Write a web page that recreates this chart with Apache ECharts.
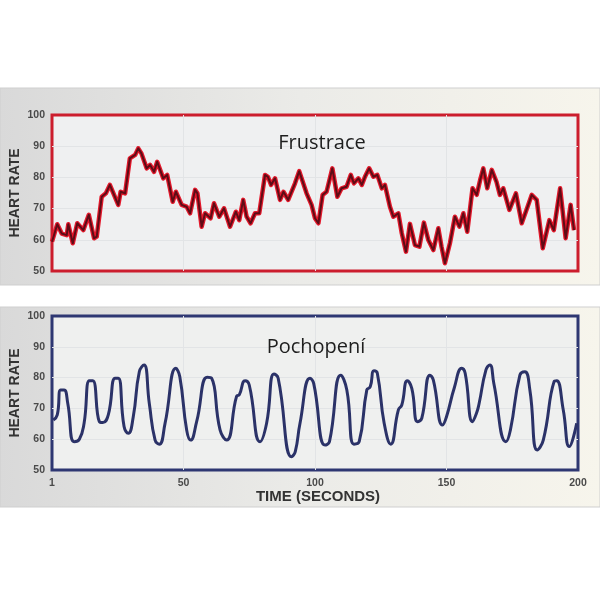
<!DOCTYPE html>
<html>
<head>
<meta charset="utf-8">
<script src="https://cdn.jsdelivr.net/npm/echarts@6/dist/echarts.min.js"></script>
<style>html,body{margin:0;padding:0;background:#fff;}#c{width:600px;height:600px;}</style>
</head>
<body>
<div id="c"></div>
<script>
// ---- data ----
var frustraceTimes = [0,2,3.7,5.6,6.2,7.9,9.6,11.9,14,16,17,18.9,20.5,22,25.2,26.1,27.8,29.6,31.6,32.8,34,36,37.3,38.8,40,42.3,43.8,45.9,47.1,49.3,51.2,52.5,54.4,55.3,56.9,58.2,60.3,61.6,63.6,65.4,67.7,69.9,71.2,72.7,74,75.5,77.2,78.8,81,82.1,83.3,84.8,86.7,88,89.8,92.4,94,96.8,98.7,100,101.3,102.9,104.4,106.6,108.5,110.1,112,113.6,114.8,116.5,117.8,119,120.6,122.2,123.7,125.4,126.6,128.5,129.8,131.7,133,134.6,136.1,138,139.7,141.4,143.1,145,146.9,148.1,149.4,151.3,153.2,154.9,156.4,157.9,159.9,161.5,162.8,164,165.5,167.2,169,170.3,171.6,173.9,176.4,178.6,181.1,182.4,184.3,186.6,189.1,190.8,193.2,195.3,197.2,198.5];
var frustraceValues = [59.4,65,62,61.5,65,58.9,65.3,63.1,68,60.5,61,73.8,74.9,77.6,71.2,75.4,74.9,86.1,87.2,89.3,87.7,82.9,84,81.8,85,79.7,80.8,72.2,75.4,71.2,70.6,68.5,76,74.9,64.2,68.5,66.9,71.7,67.4,70.1,64.2,69,66.3,72.8,67.4,65.3,68.5,68.5,80.8,80.2,77.6,79.7,72.8,75.4,72.8,78.1,82,74.9,71.2,66.9,65.3,74.4,75.4,82.9,73.8,76.5,77,80.8,78.1,79.7,77.6,80.2,82.9,80.2,80.8,76.5,77.6,70.6,67.4,68.5,62.1,56.2,65.1,58.3,57.8,65.5,59.9,56.7,63.7,57.8,52.5,58.9,67.4,64.2,68.5,62.6,76.5,74.4,79.2,82.9,76.5,82.4,78.6,74.4,76.5,69.6,74.9,65.3,71.2,74.4,72.8,57.3,66.3,63.1,76.5,60.5,71.2,63.1];

var pochopeniTimes = [0.5,2,3.3,4.6,6,8.4,10.4,12.2,14.2,15.5,18,19.3,21.4,24,25.2,27.4,29,30.9,33.2,35,37,39.2,40.8,43,47.1,48.6,51.2,52.7,55,59,60.7,63.9,66.4,70.2,71.2,73.4,75,79.1,81.6,84.4,86,91.1,92.5,94.3,98.1,99.5,103.8,105.5,109.8,112.1,114.8,116.8,119.7,121,122.4,123.7,126.3,128.8,131.7,133,135.1,136.8,139,140.6,143.7,145,148.5,150,153,155.8,157.1,159.9,161.4,162.4,165,166.5,168,172.6,174.3,177.9,179.8,181.7,184.5,186.8,190.9,191.9,194.4,196.7,199.5];
var pochopeniValues = [66.2,67.9,76,76,71.6,59.2,60,65.2,79,79,65.7,65.4,67.9,79.8,79.8,64.1,61.9,67.3,81.9,84.1,71.6,59.7,58.4,65.2,83,80.3,63,59.7,65.7,80.1,79.8,63,59.7,74,74.4,79,77.6,59.2,65.2,81.2,79.8,54.3,56,65.2,79.8,78.1,58.1,59.2,80.8,76,58.4,59.2,76,77,82.2,81.4,65.2,58.4,69.5,71.1,79,76.5,65.7,66.8,80.8,79.2,64.6,67.3,76.8,83,81.4,65.7,68.4,71.6,82.5,84.1,78.1,59.2,63,80.8,81.9,76,56.5,59.7,78.7,79,69.5,57.6,65.2];

var xTicks = [0,50,100,150,200];
var xTickLabels = ['1','50','100','150','200'];
var panelTitles = ['Frustrace','Pochopení'];
var yAxisTitle = 'HEART RATE';
var xAxisTitle = 'TIME (SECONDS)';

function pairs(t, v){ return t.map(function(x,i){ return [x, v[i]]; }); }

var chart = echarts.init(document.getElementById('c'));
var axisLabelStyle = {color:'#4a4a4a', fontSize:10.5, fontWeight:'bold', fontFamily:'Liberation Sans'};
var split = {show:true, showMinLine:false, showMaxLine:false, lineStyle:{color:'#e2e4e6', width:1}};
function yAxis(gi){
  return {
    type:'value', gridIndex:gi, min:50, max:100, interval:10,
    axisLine:{show:false}, axisTick:{show:false},
    axisLabel:Object.assign({margin:7}, axisLabelStyle),
    splitLine:split
  };
}
function xAxis(gi, showLabels){
  return {
    type:'value', gridIndex:gi, min:0, max:200, interval:50,
    axisLine:{show:false}, axisTick:{show:false},
    axisLabel:Object.assign({show:showLabels, margin:8, formatter:function(v){ var i=xTicks.indexOf(v); return i>=0?xTickLabels[i]:''; }}, axisLabelStyle),
    splitLine:split
  };
}
var panelFill = function(){ return new echarts.graphic.LinearGradient(0,0,1,0,[{offset:0,color:'#d9d9d9'},{offset:0.5,color:'#ebebe8'},{offset:1,color:'#f7f5ec'}]); };
var axisTitleStyle = {fontFamily:'Liberation Sans', fontWeight:'bold', fontSize:14, fill:'#333', textAlign:'center', textVerticalAlign:'middle'};

var option = {
  animation:false,
  backgroundColor:'#ffffff',
  graphic:[
    {type:'rect', z:-10, shape:{x:0,y:88,width:600,height:197}, style:{fill:panelFill(), stroke:'#cfcfcf', lineWidth:1}},
    {type:'rect', z:-10, shape:{x:0,y:307,width:600,height:200}, style:{fill:panelFill(), stroke:'#cfcfcf', lineWidth:1}},
    {type:'text', z:10, x:322, y:143, style:{text:panelTitles[0], textAlign:'center', textVerticalAlign:'middle', fontFamily:'Open Sans', fontSize:20, fill:'#1e1e1e'}},
    {type:'text', z:10, x:316, y:347, style:{text:panelTitles[1], textAlign:'center', textVerticalAlign:'middle', fontFamily:'Open Sans', fontSize:20, fill:'#1e1e1e'}},
    {type:'text', z:10, x:15, y:193, rotation:Math.PI/2, style:Object.assign({text:yAxisTitle}, axisTitleStyle)},
    {type:'text', z:10, x:15, y:393, rotation:Math.PI/2, style:Object.assign({text:yAxisTitle}, axisTitleStyle)},
    {type:'text', z:10, x:318, y:497, style:Object.assign({text:xAxisTitle}, axisTitleStyle, {fontSize:15})}
  ],
  grid:[
    {left:52, top:115, width:526, height:156, containLabel:false, outerBoundsMode:'none', show:true, backgroundColor:'#eff0f1', borderColor:'#cc1d2d', borderWidth:3},
    {left:52, top:316, width:526, height:154, containLabel:false, outerBoundsMode:'none', show:true, backgroundColor:'#eff0ef', borderColor:'#2e3772', borderWidth:3}
  ],
  xAxis:[xAxis(0,false), xAxis(1,true)],
  yAxis:[yAxis(0), yAxis(1)],
  series:[
    {type:'line', xAxisIndex:0, yAxisIndex:0, data:pairs(frustraceTimes, frustraceValues), symbol:'none',
      lineStyle:{color:'#e3182b', width:4.5, join:'round'}, z:2},
    {type:'line', xAxisIndex:0, yAxisIndex:0, data:pairs(frustraceTimes, frustraceValues), symbol:'none',
      lineStyle:{color:'#5e0c16', width:2, join:'round'}, z:3},
    {type:'line', xAxisIndex:1, yAxisIndex:1, data:pairs(pochopeniTimes, pochopeniValues), symbol:'none', smooth:0.5,
      lineStyle:{color:'#2b3268', width:3}, z:3}
  ]
};
chart.setOption(option);
</script>
</body>
</html>
